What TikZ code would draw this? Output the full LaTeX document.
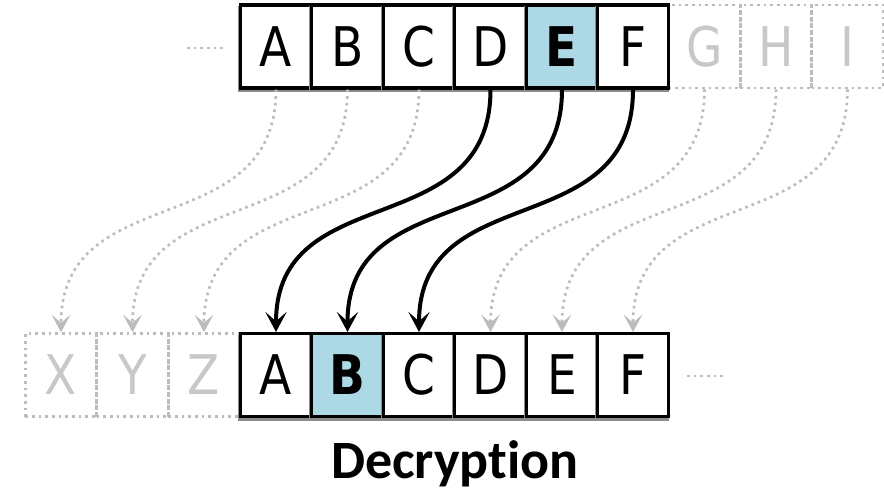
\documentclass[tikz,border=0pt]{standalone}
\usepackage{fontspec}
\usepackage{graphicx}
\setmainfont{DejaVu Sans}
\newfontfamily\capfont[Ligatures=NoCommon]{Carlito}
\newcommand\narrowtxt[1]{\scalebox{0.86}[1]{#1}}
\usetikzlibrary{arrows.meta}
\definecolor{lblue}{RGB}{173,216,230}
\definecolor{lgray}{RGB}{188,188,188}
\definecolor{tgray}{RGB}{200,200,200}
\definecolor{sgray}{RGB}{140,140,140}
\begin{document}
\begin{tikzpicture}[x=0.75pt,y=-0.75pt,
  cellbase/.style={minimum width=53.6pt, minimum height=62.25pt, inner sep=0pt,
    font=\fontsize{41}{41}\selectfont},
  cell/.style={cellbase, draw=black, line width=2.3pt, fill=white,
    preaction={draw=sgray, line width=2.3pt, transform canvas={shift={(-0.8pt,-2pt)}}}},
  hicell/.style={cell, fill=lblue, font=\fontsize{41}{41}\selectfont\bfseries},
  ghost/.style={cellbase, draw=lgray, line width=2pt, dash pattern=on 2pt off 3pt, text=tgray},
  dotline/.style={draw=lgray, line width=2pt, dash pattern=on 2pt off 3pt},
  darrow/.style={draw=lgray, line width=2pt, dash pattern=on 2pt off 3pt,
    -{Stealth[length=13pt,width=14pt,inset=6pt]}},
  barrow/.style={draw=black, line width=3pt, -{Stealth[length=15pt,width=16pt,inset=7pt]}},
  title/.style={font=\capfont\bfseries\fontsize{40.5}{40.5}\selectfont, anchor=base}
]
\useasboundingbox (0,0) rectangle (884,491);

% top row
\node[ghost] (t7) at (704.5,46.5) {\narrowtxt{G}};
\node[ghost] (t8) at (776,46.5) {\narrowtxt{H}};
\node[ghost] (t9) at (847.5,46.5) {\narrowtxt{I}};
\node[cell] (t1) at (276,46.5) {\narrowtxt{A}};
\node[cell] (t2) at (347.5,46.5) {\narrowtxt{B}};
\node[cell] (t3) at (419,46.5) {\narrowtxt{C}};
\node[cell] (t4) at (490.5,46.5) {\narrowtxt{D}};
\node[hicell] (t5) at (562,46.5) {\narrowtxt{E}};
\node[cell] (t6) at (633,46.5) {\narrowtxt{F}};

% bottom row
\node[ghost] (b1) at (61,375) {\narrowtxt{X}};
\node[ghost] (b2) at (132.5,375) {\narrowtxt{Y}};
\node[ghost] (b3) at (204,375) {\narrowtxt{Z}};
\node[cell] (b4) at (276,375) {\narrowtxt{A}};
\node[hicell] (b5) at (347.5,375) {\narrowtxt{B}};
\node[cell] (b6) at (419,375) {\narrowtxt{C}};
\node[cell] (b7) at (490.5,375) {\narrowtxt{D}};
\node[cell] (b8) at (562,375) {\narrowtxt{E}};
\node[cell] (b9) at (633,375) {\narrowtxt{F}};

% ellipses
\coordinate (l1) at (187,48);
\coordinate (l2) at (223,48);
\draw[dotline] (l1) -- (l2);
\coordinate (r1) at (687,376);
\coordinate (r2) at (723,376);
\draw[dotline] (r1) -- (r2);

% gray mappings
\foreach \i in {1,2,3,7,8,9}{
  \draw[darrow] (t\i.south) .. controls +(0,155) and +(0,-155) .. (b\i.north);
}
% black mappings
\foreach \i in {4,5,6}{
  \draw[barrow] (t\i.south) .. controls +(0,155) and +(0,-155) .. (b\i.north);
}

\node[title] (cap) at (455,478) {Decryption};
\end{tikzpicture}
\end{document}
